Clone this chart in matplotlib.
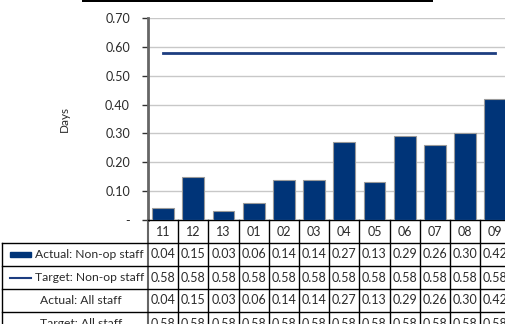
import matplotlib
matplotlib.use('Agg')
import matplotlib.pyplot as plt
from matplotlib.patches import Rectangle
from matplotlib.lines import Line2D
from matplotlib.transforms import blended_transform_factory

#################
#Data
#################
months = ['11', '12', '13', '01', '02', '03', '04', '05', '06', '07', '08', '09']
actual_nonop = [0.04, 0.15, 0.03, 0.06, 0.14, 0.14, 0.27, 0.13, 0.29, 0.26, 0.30, 0.42]
target_nonop = [0.58] * 12
actual_all = [0.04, 0.15, 0.03, 0.06, 0.14, 0.14, 0.27, 0.13, 0.29, 0.26, 0.30, 0.42]
target_all = [0.58] * 12
row_labels = ['Actual: Non-op staff', 'Target: Non-op staff', 'Actual: All staff', 'Target: All staff']
yticks = [0.0, 0.1, 0.2, 0.3, 0.4, 0.5, 0.6, 0.7]

#################
#Configurations
#################
BAR_COLOR = '#003478'
LINE_COLOR = '#1d3d80'
TEXT_COLOR = '#2a2a2a'
W, H = 505, 324
CAT_PX = 30.2
ROW_PX = 23
FS = 9
plt.rcParams['font.family'] = ['Lato', 'DejaVu Sans']


def drawChart():
    fig = plt.figure(figsize=(W / 100, H / 100), dpi=100)
    ax = fig.add_axes([148 / W, (H - 220) / H, 12 * CAT_PX / W, 202 / H])
    x = list(range(len(months)))

    ax.bar(x, actual_nonop, width=0.72, color=BAR_COLOR, edgecolor='#9a9a9a', linewidth=0.8, zorder=3)
    ax.plot(x, target_nonop, color=LINE_COLOR, linewidth=2, zorder=4)

    ax.set_xlim(-0.5, len(months) - 0.5)
    ax.set_ylim(0, 0.7)
    ax.set_yticks(yticks)
    ax.set_yticklabels(['-' if v == 0 else '%.2f' % v for v in yticks], fontsize=FS, color=TEXT_COLOR)
    ax.set_xticks([])
    ax.tick_params(axis='y', direction='out', length=4, width=1, pad=9, color='#333333')
    ax.grid(axis='y', color='#c8c8c8', linewidth=1, zorder=0)
    for s in ['top', 'right']:
        ax.spines[s].set_visible(False)
    ax.spines['left'].set_color('#666666')
    ax.spines['left'].set_linewidth(2)
    ax.spines['bottom'].set_color('black')
    ax.spines['bottom'].set_linewidth(1)
    ax.set_ylabel('Days', fontsize=8.5, labelpad=25, color=TEXT_COLOR)

    drawTable(ax, x)

    # black bar at the very top
    fig.add_artist(Rectangle((82 / W, (H - 2) / H), (433 - 82) / W, 2 / H,
                             transform=fig.transFigure, color='black', linewidth=0))
    fig.savefig('out.png', dpi=100)


def drawTable(ax, x):
    # x in data units, y in axes fraction
    tr = blended_transform_factory(ax.transData, ax.transAxes)
    rh = ROW_PX / 202
    left = -0.5 - (148 - 2) / CAT_PX
    right = len(months) - 0.5
    rows = [actual_nonop, target_nonop, actual_all, target_all]

    # header row with month labels
    for i, m in enumerate(months):
        ax.text(i, -rh / 2, m, transform=tr, ha='center', va='center', fontsize=FS, color=TEXT_COLOR, clip_on=False)
    for b in range(1, len(months) + 1):
        ax.add_line(Line2D([b - 0.5, b - 0.5], [0, -rh * 5], transform=tr, color='black', linewidth=1, clip_on=False))
    ax.add_line(Line2D([-0.5, -0.5], [0, -rh * 5], transform=tr, color='#666666', linewidth=1.5, clip_on=False))

    # body rows
    for r in range(len(rows) + 1):
        y = -rh * (r + 1)
        ax.add_line(Line2D([left, right], [y, y], transform=tr, color='black', linewidth=1, clip_on=False))
    ax.add_line(Line2D([left, left], [-rh, -rh * 5], transform=tr, color='black', linewidth=1, clip_on=False))

    for r, vals in enumerate(rows):
        yc = -rh * (r + 1.5)
        for i, v in enumerate(vals):
            ax.text(i, yc, '%.2f' % v, transform=tr, ha='center', va='center', fontsize=FS, color=TEXT_COLOR, clip_on=False)
        if r < 2:
            tx = left + (35 - 2) / CAT_PX
        else:
            tx = left + (40 - 2) / CAT_PX
        ax.text(tx, yc, row_labels[r], transform=tr, ha='left', va='center', fontsize=8.7, color=TEXT_COLOR, clip_on=False)

    # legend keys in the label column
    kx0 = left + (10 - 2) / CAT_PX
    kx1 = left + (31 - 2) / CAT_PX
    ax.add_patch(Rectangle((kx0, -rh * 1.5 - 0.013), kx1 - kx0, 0.026, transform=tr,
                           color=BAR_COLOR, clip_on=False))
    ax.add_line(Line2D([kx0, kx1], [-rh * 2.5, -rh * 2.5], transform=tr, color=LINE_COLOR, linewidth=1.5, clip_on=False))


def main():
    drawChart()


if __name__ == '__main__':
    main()
